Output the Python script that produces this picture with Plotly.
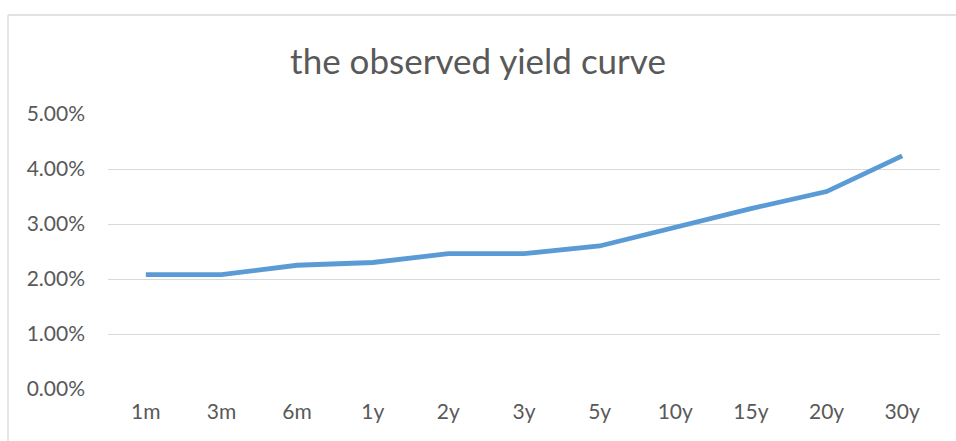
import plotly.graph_objects as go

maturities = ["1m", "3m", "6m", "1y", "2y", "3y", "5y", "10y", "15y", "20y", "30y"]
yields = [0.0208, 0.0208, 0.0225, 0.0230, 0.0246, 0.0246, 0.0260, 0.0294, 0.0328, 0.0359, 0.0424]
y_ticks = [0.0, 0.01, 0.02, 0.03, 0.04, 0.05]
y_tick_labels = ["0.00%", "1.00%", "2.00%", "3.00%", "4.00%", "5.00%"]

fig = go.Figure()
fig.add_trace(go.Scatter(
    x=maturities, y=yields, mode="lines",
    line=dict(color="#5B9BD5", width=4.8),
    hoverinfo="x+y",
))

font_family = "Lato, 'Open Sans', sans-serif"
fig.update_layout(
    width=956, height=441,
    margin=dict(l=108, r=16, t=114, b=52),
    paper_bgcolor="white", plot_bgcolor="white",
    showlegend=False,
    title=dict(text="the observed yield curve", x=0.5, xanchor="center",
               y=1 - 62 / 441, yanchor="middle",
               font=dict(family=font_family, size=35, color="#595959")),
    xaxis=dict(type="category", range=[-0.5, len(maturities) - 0.5],
               showgrid=False, zeroline=False, showline=False,
               ticks="", ticklabelstandoff=8,
               tickfont=dict(family=font_family, size=21, color="#595959")),
    yaxis=dict(range=[0, 0.05], tickvals=y_ticks, ticktext=y_tick_labels,
               showgrid=True, gridcolor="#D9D9D9", gridwidth=1.3,
               zeroline=False, showline=False, ticks="",
               ticklabelstandoff=22,
               tickfont=dict(family=font_family, size=21, color="#595959")),
    shapes=[
        dict(type="line", xref="paper", yref="paper",
             x0=-100 / 832, x1=(956 - 108) / 832, y0=(441 - 52 - 15) / 275, y1=(441 - 52 - 15) / 275,
             line=dict(color="#D9D9D9", width=1.3)),
        dict(type="line", xref="paper", yref="paper",
             x0=-100 / 832, x1=-100 / 832, y0=-52 / 275, y1=(441 - 52 - 15) / 275,
             line=dict(color="#D9D9D9", width=1.3)),
    ],
)

fig.write_html("out.html")
